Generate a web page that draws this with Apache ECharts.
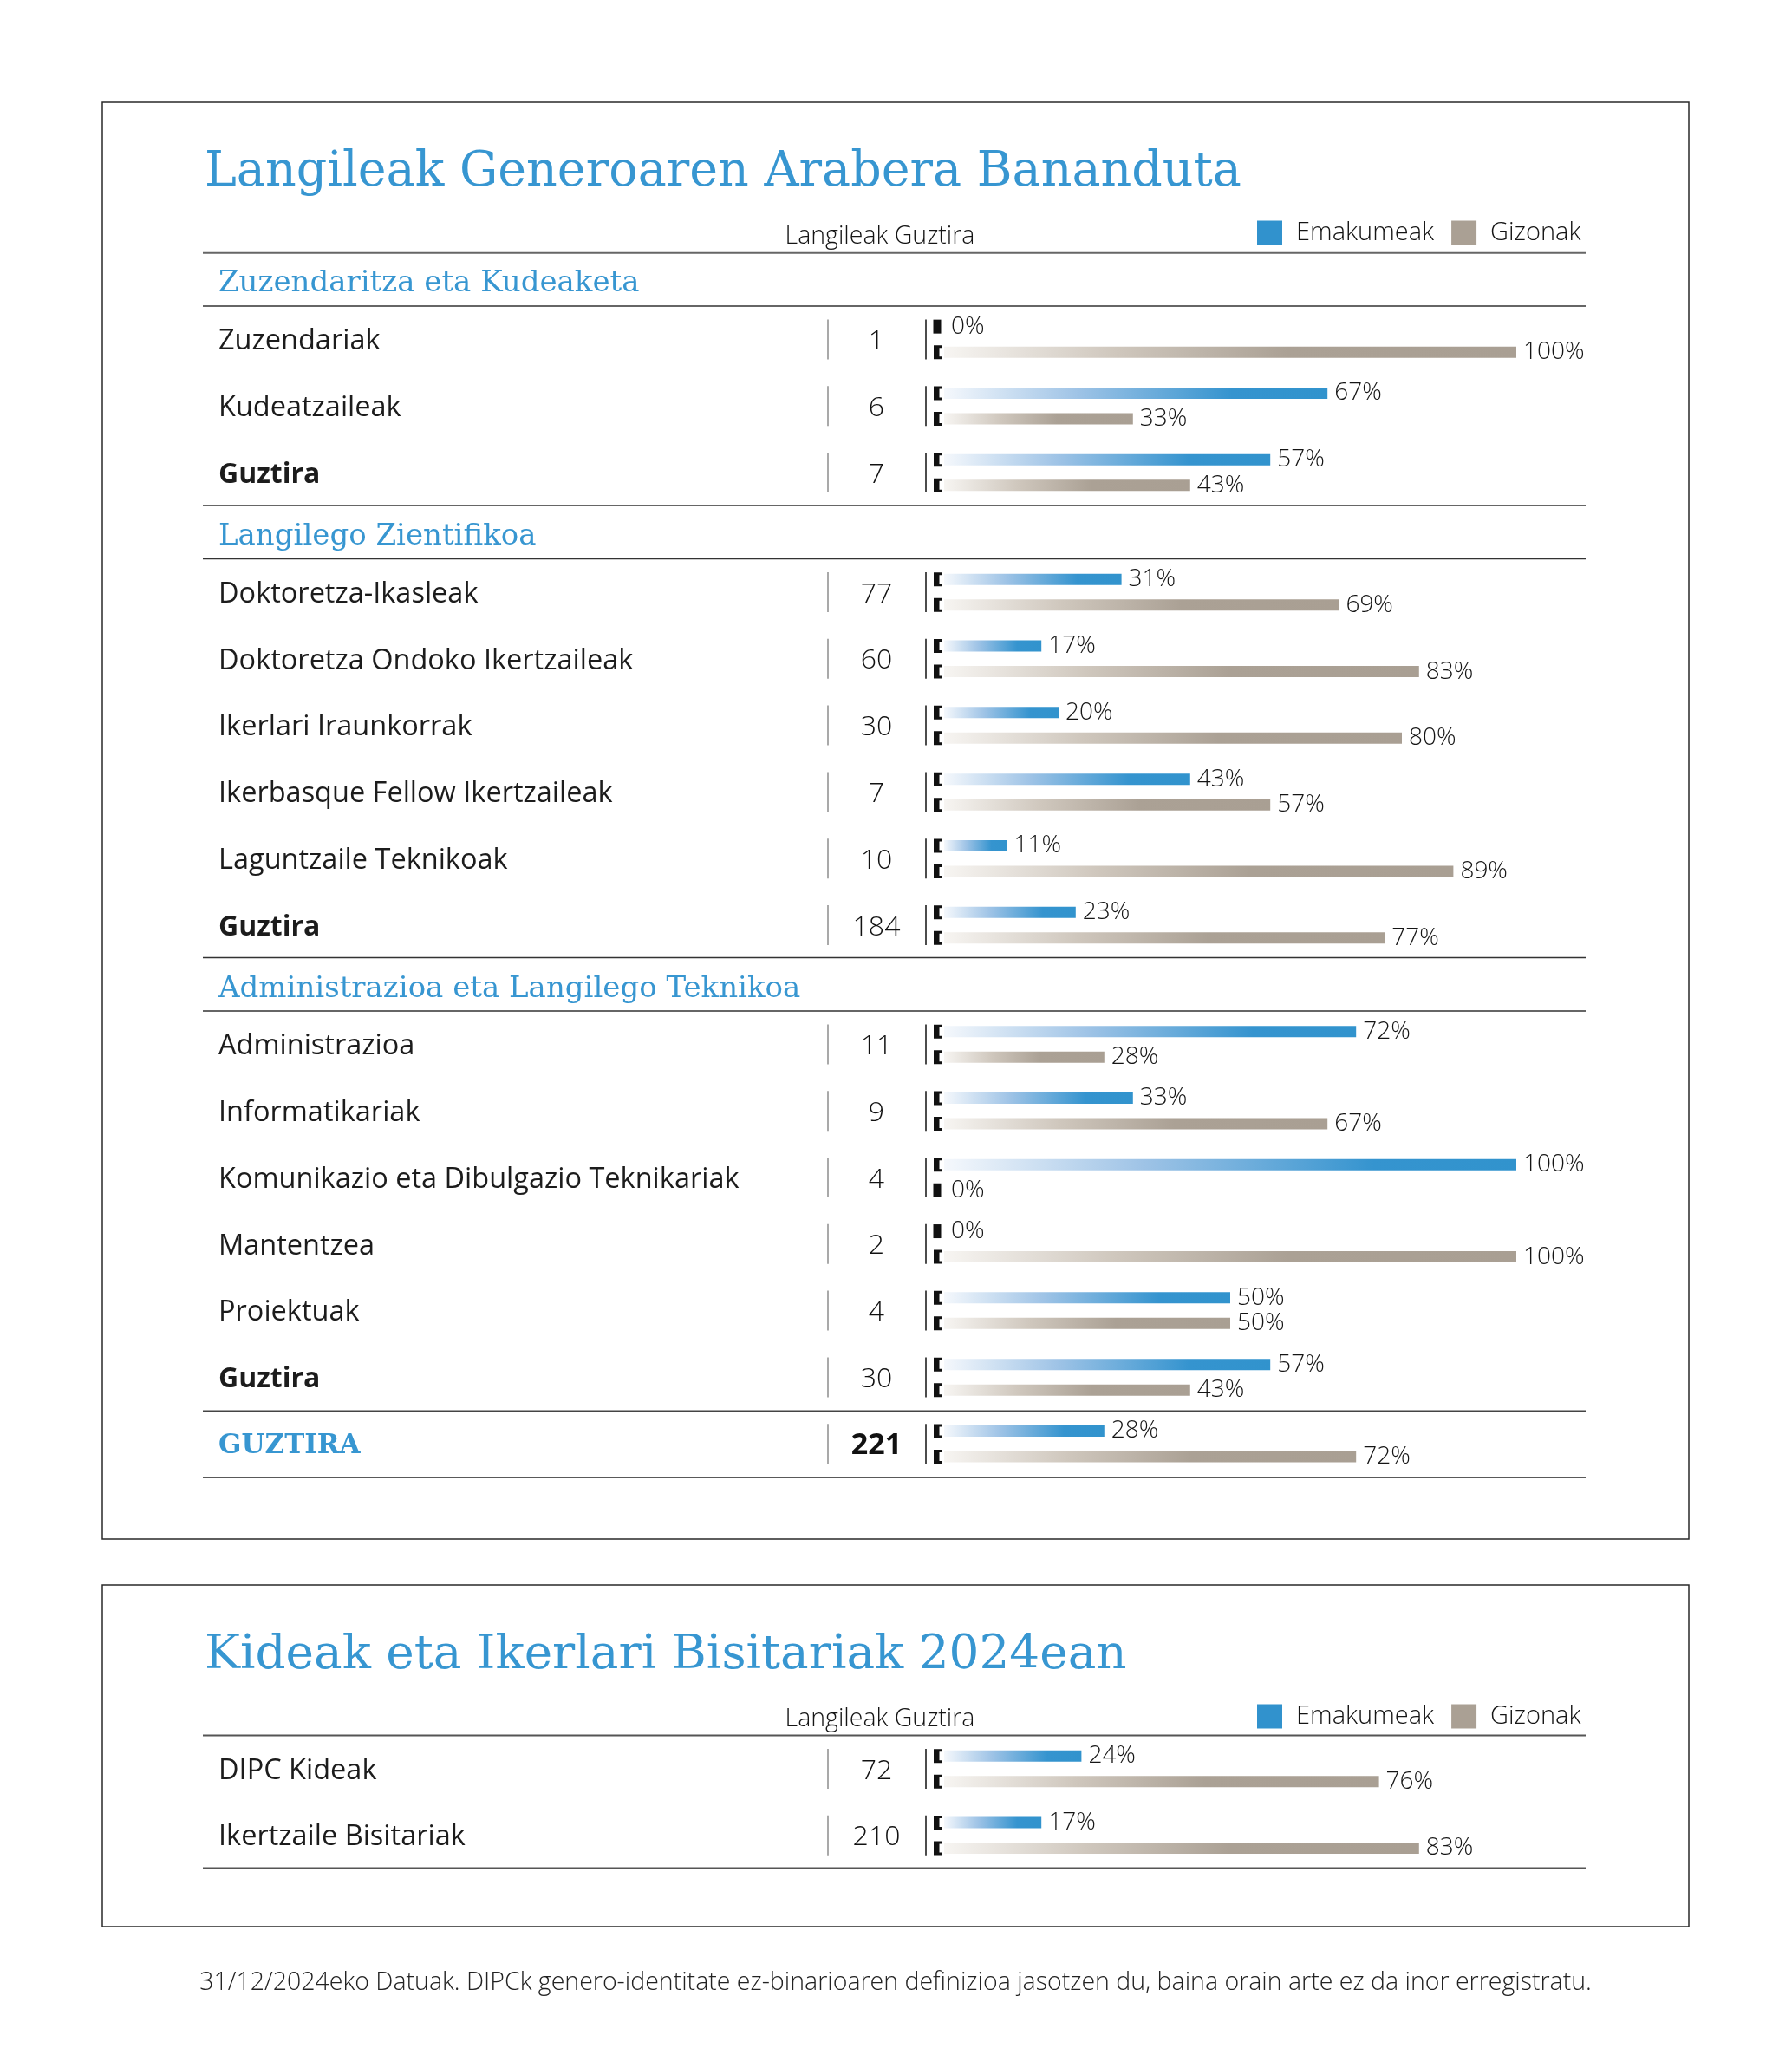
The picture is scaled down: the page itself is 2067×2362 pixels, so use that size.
<!DOCTYPE html>
<html><head><meta charset="utf-8">
<script src="https://cdn.jsdelivr.net/npm/echarts@6/dist/echarts.min.js"></script>
<style>html,body{margin:0;padding:0;background:#fff}#c{width:2067px;height:2362px}</style>
</head><body><div id="c"></div>
<script>
// ---------------- DATA ----------------
const title1 = 'Langileak Generoaren Arabera Bananduta';
const title2 = 'Kideak eta Ikerlari Bisitariak 2024ean';
const colHeader = 'Langileak Guztira';
const seriesNames = ['Emakumeak', 'Gizonak'];
const sectionTitles = ['Zuzendaritza eta Kudeaketa', 'Langilego Zientifikoa', 'Administrazioa eta Langilego Teknikoa'];

const secA_names = ['Zuzendariak', 'Kudeatzaileak', 'Guztira'];
const secA_total = [1, 6, 7];
const secA_women = [0, 67, 57];
const secA_men = [100, 33, 43];

const secB_names = ['Doktoretza-Ikasleak', 'Doktoretza Ondoko Ikertzaileak', 'Ikerlari Iraunkorrak', 'Ikerbasque Fellow Ikertzaileak', 'Laguntzaile Teknikoak', 'Guztira'];
const secB_total = [77, 60, 30, 7, 10, 184];
const secB_women = [31, 17, 20, 43, 11, 23];
const secB_men = [69, 83, 80, 57, 89, 77];

const secC_names = ['Administrazioa', 'Informatikariak', 'Komunikazio eta Dibulgazio Teknikariak', 'Mantentzea', 'Proiektuak', 'Guztira', 'GUZTIRA'];
const secC_total = [11, 9, 4, 2, 4, 30, 221];
const secC_women = [72, 33, 100, 0, 50, 57, 28];
const secC_men = [28, 67, 0, 100, 50, 43, 72];

const secD_names = ['DIPC Kideak', 'Ikertzaile Bisitariak'];
const secD_total = [72, 210];
const secD_women = [24, 17];
const secD_men = [76, 83];

const footnote = '31/12/2024eko Datuak. DIPCk genero-identitate ez-binarioaren definizioa jasotzen du, baina orain arte ez da inor erregistratu.';

// ---------------- STYLE ----------------
const SANS = '"Open Sans", Lato, sans-serif';
const LIGHT = '"Open Sans", Lato, sans-serif';
const SLAB = '"DejaVu Serif", serif';
const TITLE_BLUE = '#3796d1';
const INK = '#1c1c1c';
const GRID_LEFT = 1089, GRID_W = 660, ROW_H = 76.8;

const blueGrad = new echarts.graphic.LinearGradient(0, 0, 1, 0, [
  {offset: 0, color: '#f5f8fc'}, {offset: 0.35, color: '#9ec3e6'}, {offset: 0.75, color: '#3594cf'}, {offset: 1, color: '#3193cd'}]);
const grayGrad = new echarts.graphic.LinearGradient(0, 0, 1, 0, [
  {offset: 0, color: '#f7f5f2'}, {offset: 0.3, color: '#cfc7bd'}, {offset: 0.6, color: '#aba195'}, {offset: 1, color: '#a99f93'}]);

const sections = [
  {names: secA_names, total: secA_total, women: secA_women, men: secA_men, top: 353},
  {names: secB_names, total: secB_total, women: secB_women, men: secB_men, top: 644.6},
  {names: secC_names, total: secC_total, women: secC_women, men: secC_men, top: 1166},
  {names: secD_names, total: secD_total, women: secD_women, men: secD_men, top: 2001.5}
];

function bracket(x0, y, filled) {
  if (filled) return {type: 'rect', shape: {x: x0 - 12.5, y: y - 8, width: 9, height: 16}, style: {fill: '#111'}};
  return {type: 'polygon', shape: {points: [[x0 - 12, y - 8], [x0 - 2, y - 8], [x0 - 2, y - 5], [x0 - 5.5, y - 5], [x0 - 5.5, y + 5], [x0 - 2, y + 5], [x0 - 2, y + 8], [x0 - 12, y + 8]]}, style: {fill: '#111'}};
}
function renderDeco(params, api) {
  const p = api.coord([0, api.value(1)]);
  const x0 = p[0], yc = p[1];
  return {type: 'group', children: [
    {type: 'line', shape: {x1: x0 - 134, y1: yc - 23, x2: x0 - 134, y2: yc + 23}, style: {stroke: '#8c8c8c', lineWidth: 1.5}},
    {type: 'line', shape: {x1: x0 - 21, y1: yc - 23, x2: x0 - 21, y2: yc + 23}, style: {stroke: '#111', lineWidth: 1.5}},
    bracket(x0, yc - 14.75, api.value(2) === 0),
    bracket(x0, yc + 14.75, api.value(3) === 0)
  ]};
}

const grid = [], xAxis = [], yAxis = [], series = [];
const labelStyle = {show: true, position: 'right', distance: 8, formatter: '{c}%', fontSize: 28, fontWeight: 300, fontFamily: LIGHT, color: '#151515'};
const PAD = [5, 0, 0, 0];
sections.forEach((s, g) => {
  grid.push({left: GRID_LEFT, width: GRID_W, top: s.top, height: ROW_H * s.names.length});
  xAxis.push({gridIndex: g, type: 'value', min: 0, max: 100, show: false});
  yAxis.push({
    gridIndex: g, type: 'category', data: s.names, inverse: true,
    axisLine: {show: false}, axisTick: {show: false}, splitLine: {show: false},
    axisLabel: {
      align: 'left', margin: 837,
      formatter: (v, i) => {
        if (v === 'GUZTIRA') return '{gt|' + v + '}{gc|' + s.total[i] + '}';
        if (v === 'Guztira') return '{nb|' + v + '}{c|' + s.total[i] + '}';
        return '{n|' + v + '}{c|' + s.total[i] + '}';
      },
      rich: {
        n: {fontFamily: SANS, fontSize: 32.5, fontWeight: 400, color: INK, width: 703, padding: PAD},
        nb: {fontFamily: SANS, fontSize: 32, fontWeight: 'bold', color: INK, width: 703, padding: PAD},
        c: {fontFamily: LIGHT, fontSize: 32, fontWeight: 300, color: '#111', width: 112, align: 'center', padding: PAD},
        gt: {fontFamily: SLAB, fontSize: 31, fontWeight: 'bold', color: TITLE_BLUE, width: 703, padding: PAD},
        gc: {fontFamily: SANS, fontSize: 34, fontWeight: 'bold', color: '#111', width: 112, align: 'center', padding: PAD}
      }
    }
  });
  series.push({name: seriesNames[0], type: 'bar', xAxisIndex: g, yAxisIndex: g, data: s.women, barWidth: 13, barGap: '127%',
    itemStyle: {color: blueGrad}, label: labelStyle});
  series.push({name: seriesNames[1], type: 'bar', xAxisIndex: g, yAxisIndex: g, data: s.men, barWidth: 13, barGap: '127%',
    itemStyle: {color: grayGrad}, label: labelStyle});
  series.push({type: 'custom', xAxisIndex: g, yAxisIndex: g, silent: true, z: 5,
    data: s.names.map((n, i) => [0, i, s.women[i], s.men[i]]), renderItem: renderDeco});
});

const legendBase = {
  data: [{name: seriesNames[0], itemStyle: {color: '#3192cd'}}, {name: seriesNames[1], itemStyle: {color: '#aaa094'}}],
  left: 1450, itemWidth: 29, itemHeight: 28, itemGap: 20, padding: 0, icon: 'rect', selectedMode: false,
  textStyle: {fontSize: 29, fontWeight: 300, fontFamily: LIGHT, color: '#151515', padding: [12, 0, 0, 11]}
};

function hline(y, color, w) {
  return {type: 'line', shape: {x1: 234, y1: y, x2: 1829, y2: y}, style: {stroke: color, lineWidth: w}};
}
function txt(x, y, text, o) {
  return {type: 'text', x: x, y: y, style: Object.assign({text: text, verticalAlign: 'middle', align: 'left'}, o)};
}
const titleStyle = {fontFamily: SLAB, fontSize: 55.5, fill: TITLE_BLUE};
const title2Style = {fontFamily: SLAB, fontSize: 54.8, fill: TITLE_BLUE};
const secStyle = {fontFamily: SLAB, fontSize: 34, fill: TITLE_BLUE};
const hdrStyle = {fontFamily: LIGHT, fontSize: 28.5, fontWeight: 300, fill: '#151515', align: 'center'};

const graphicEls = [
  {type: 'rect', shape: {x: 118, y: 118, width: 1830, height: 1657}, style: {fill: 'none', stroke: '#2a2a2a', lineWidth: 1.5}},
  {type: 'rect', shape: {x: 118, y: 1828, width: 1830, height: 394}, style: {fill: 'none', stroke: '#2a2a2a', lineWidth: 1.5}},
  txt(236, 200, title1, titleStyle),
  txt(236, 1910, title2, title2Style),
  txt(1015, 273, colHeader, hdrStyle),
  txt(1015, 1983, colHeader, hdrStyle),
  txt(252, 327, sectionTitles[0], secStyle),
  txt(252, 619, sectionTitles[1], secStyle),
  txt(252, 1141, sectionTitles[2], secStyle),
  hline(291.7, '#666', 2), hline(353, '#333', 1.5), hline(583, '#333', 1.5), hline(644.6, '#333', 1.5),
  hline(1104.6, '#333', 1.5), hline(1166, '#333', 1.5), hline(1627.5, '#444', 2), hline(1704, '#222', 1.5),
  hline(2001.5, '#555', 2), hline(2154.5, '#555', 2),
  txt(1033, 2287, footnote, {fontFamily: LIGHT, fontSize: 28.5, fontWeight: 300, fill: '#222', align: 'center'})
];

const chart = echarts.init(document.getElementById('c'), null, {renderer: 'canvas'});
chart.setOption({
  animation: false,
  backgroundColor: '#fff',
  grid: grid, xAxis: xAxis, yAxis: yAxis, series: series,
  legend: [Object.assign({top: 254}, legendBase), Object.assign({top: 1965}, legendBase)],
  graphic: {elements: graphicEls}
});
</script></body></html>
